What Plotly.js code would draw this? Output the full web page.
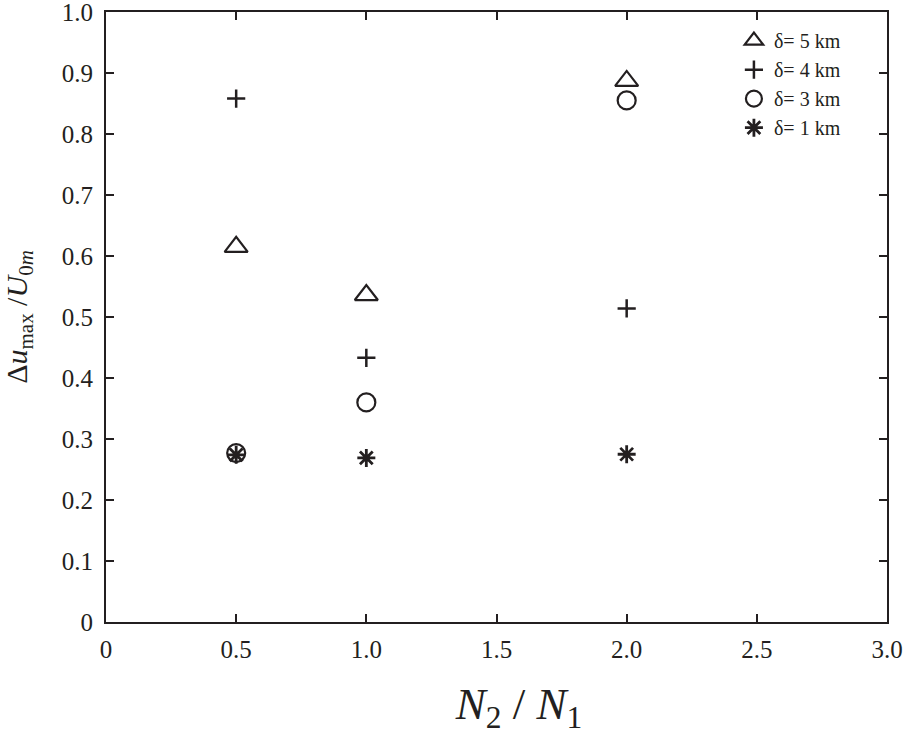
<!DOCTYPE html>
<html>
<head>
<meta charset="utf-8">
<script src="https://cdn.plot.ly/plotly-3.0.1.min.js"></script>
<style>
  html, body { margin: 0; padding: 0; background: #fff; }
  #chart { width: 906px; height: 735px; }
</style>
</head>
<body>
<div id="chart"></div>
<script>
// N2/N1 ratios and normalised max velocity difference, one series per delta
var ratio = [0.5, 1.0, 2.0];
var delta5 = [0.615, 0.536, 0.887];
var delta4 = [0.858, 0.433, 0.514];
var delta3 = [0.277, 0.360, 0.855];
var delta1 = [0.274, 0.269, 0.275];

var seriesNames = ['\u03b4= 5 km', '\u03b4= 4 km', '\u03b4= 3 km', '\u03b4= 1 km'];

var xTickVals = [0, 0.5, 1.0, 1.5, 2.0, 2.5, 3.0];
var xTickText = ['0', '0.5', '1.0', '1.5', '2.0', '2.5', '3.0'];
var yTickVals = [0, 0.1, 0.2, 0.3, 0.4, 0.5, 0.6, 0.7, 0.8, 0.9, 1.0];
var yTickText = ['0', '0.1', '0.2', '0.3', '0.4', '0.5', '0.6', '0.7', '0.8', '0.9', '1.0'];

var ink = '#231f20';
var serif = 'Liberation Serif, Times New Roman, serif';

function pointTrace(name, ys, symbol, size, width) {
    return {
        x: ratio,
        y: ys,
        name: name,
        mode: 'markers',
        type: 'scatter',
        cliponaxis: false,
        marker: {
            symbol: symbol,
            size: size,
            color: ink,
            line: { color: ink, width: width }
        }
    };
}

var data = [
    pointTrace(seriesNames[0], delta5, 'triangle-up-open', 20, 2.2),
    pointTrace(seriesNames[1], delta4, 'cross-thin-open', 13, 2.5),
    pointTrace(seriesNames[2], delta3, 'circle-open', 18, 2.2),
    pointTrace(seriesNames[3], delta1, 'asterisk-open', 15, 2.8)
];

var axisCommon = {
    showline: true,
    linecolor: ink,
    linewidth: 2,
    mirror: 'ticks',
    ticks: 'inside',
    ticklen: 8,
    tickwidth: 2,
    tickcolor: ink,
    showgrid: false,
    zeroline: false,
    tickmode: 'array',
    ticklabeloverflow: 'allow',
    tickfont: { family: serif, size: 25, color: ink }
};

var layout = {
    width: 906,
    height: 735,
    margin: { l: 106, r: 19, t: 12, b: 113 },
    paper_bgcolor: '#fff',
    plot_bgcolor: '#fff',
    showlegend: true,
    legend: {
        x: 0.804, y: 0.985, xanchor: 'left', yanchor: 'top',
        bgcolor: 'rgba(0,0,0,0)',
        font: { family: serif, size: 20, color: ink },
        tracegroupgap: 0
    },
    xaxis: Object.assign({}, axisCommon, {
        range: [0, 3],
        tickvals: xTickVals,
        ticktext: xTickText,
        ticklabelstandoff: 4,
        title: {
            // leading spaces nudge the centred title right, as in the original
            text: '&nbsp;&nbsp;&nbsp;&nbsp;<i>N</i><sub>2</sub> / <i>N</i><sub>1</sub>',
            font: { family: serif, size: 45, color: ink },
            standoff: 30
        }
    }),
    yaxis: Object.assign({}, axisCommon, {
        range: [0, 1],
        tickvals: yTickVals,
        ticktext: yTickText,
        ticklabelstandoff: 6,
        title: {
            text: '\u0394<i>u</i><sub>max</sub> /<i>U</i><sub>0<i>m</i></sub>',
            font: { family: serif, size: 30, color: ink },
            standoff: 31
        }
    })
};

Plotly.newPlot('chart', data, layout, { staticPlot: true, displayModeBar: false });
</script>
</body>
</html>
